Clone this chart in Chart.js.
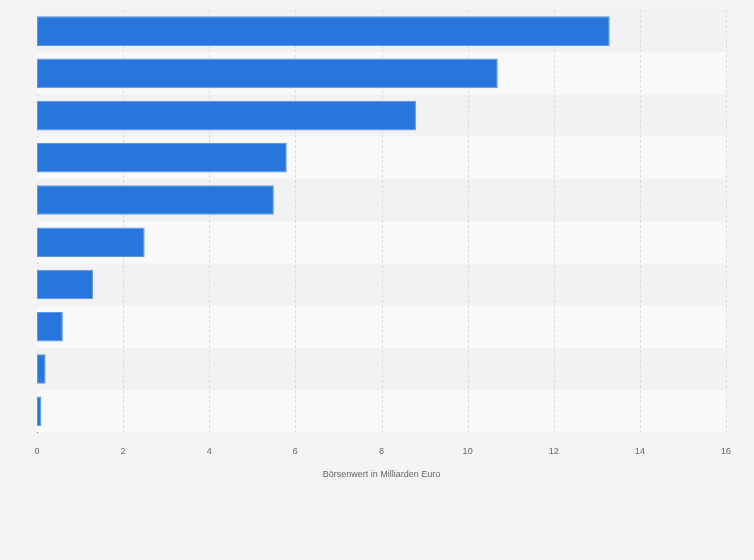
<!DOCTYPE html>
<html><head><meta charset="utf-8">
<script src="https://cdn.jsdelivr.net/npm/chart.js@4"></script>
<style>html,body{margin:0;padding:0;background:#f4f4f4}#c{display:block}</style>
</head><body>
<div style="width:754px;height:560px"><canvas id="c"></canvas></div>
<script>
const categories = ["1","2","3","4","5","6","7","8","9","10"];
const values = [13.3, 10.7, 8.8, 5.8, 5.5, 2.5, 1.3, 0.6, 0.2, 0.1];
const xTicks = [0,2,4,6,8,10,12,14,16];

const stripes = {
  id:'stripes',
  beforeDatasetsDraw(chart){
    const {ctx, chartArea:a, scales:{y}} = chart;
    const step = (a.bottom - a.top)/categories.length;
    categories.forEach((c,i)=>{
      const cy = y.getPixelForValue(i);
      ctx.fillStyle = i%2===0 ? '#f2f2f2' : '#f9f9f9';
      ctx.fillRect(a.left, cy-step/2, a.right-a.left, step);
    });
    // redraw grid lines on top of stripes
    ctx.save();
    ctx.strokeStyle='#dcdcdc'; ctx.setLineDash([3,2]); ctx.lineWidth=1;
    xTicks.forEach(t=>{ if(t===0) return; const px=Math.round(chart.scales.x.getPixelForValue(t))+0.5;
      ctx.beginPath(); ctx.moveTo(px,a.top); ctx.lineTo(px,a.bottom); ctx.stroke();});
    ctx.restore();
  }
};

new Chart(document.getElementById('c'), {
  type:'bar',
  data:{labels:categories, datasets:[{data:values, backgroundColor:'#2876dd', borderColor:'#5c97e6', borderWidth:1, borderSkipped:false, categoryPercentage:0.7, barPercentage:1}]},
  options:{
    indexAxis:'y', responsive:true, maintainAspectRatio:false, animation:false,
    layout:{padding:{left:29, right:28, top:10, bottom:76}},
    plugins:{legend:{display:false}, tooltip:{enabled:false}},
    scales:{
      x:{min:0,max:16, afterBuildTicks(s){s.ticks=xTicks.map(v=>({value:v}));},
        grid:{display:false}, border:{display:false},
        ticks:{color:'#666', font:{family:'Arial, Liberation Sans', size:9}, padding:6},
        title:{display:true, text:'Börsenwert in Milliarden Euro', color:'#666', font:{family:'Arial, Liberation Sans', size:9}, padding:{top:6}}},
      y:{ticks:{display:false}, grid:{display:false}, border:{display:true, color:'#333', width:1}}
    }
  },
  plugins:[stripes]
});
</script>
</body></html>
